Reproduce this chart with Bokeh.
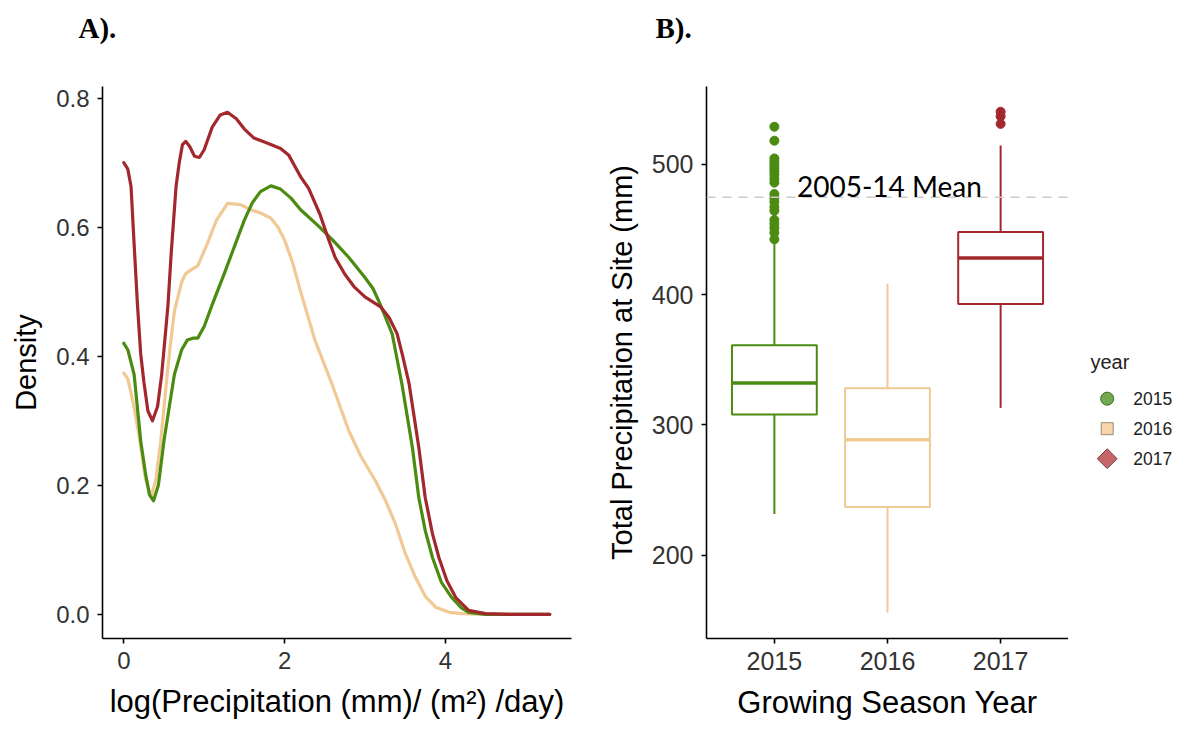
import math
from bokeh.plotting import figure
from bokeh.layouts import row, column
from bokeh.models import ColumnDataSource, Label, Span, FixedTicker, Range1d
from bokeh.core.properties import value
from bokeh.embed import file_html
from bokeh.resources import INLINE

# ---------------- data ----------------
years = ["2015", "2016", "2017"]
colors = ["#4b8b12", "#f0c994", "#a3282d"]
legend_title = "year"
legend_fill = ["#72a852", "#f6d6aa", "#c4666a"]
legend_line = ["#3c6a1a", "#9c8870", "#7a3a3a"]
legend_marker = ["circle", "square", "square"]
legend_angle = [0, 0, math.pi / 4]
legend_size = [13, 12, 14]
panel_tags = ["A).", "B)."]

# Panel A: density of log daily precipitation
x_2015 = [0.00, 0.05, 0.128, 0.21, 0.27, 0.32, 0.37, 0.43, 0.50, 0.564, 0.63, 0.72,
          0.79, 0.86, 0.92, 1.00, 1.10, 1.25, 1.40, 1.50, 1.60, 1.70, 1.83, 1.95,
          2.08, 2.20, 2.42, 2.60, 2.80, 3.00, 3.10, 3.17, 3.25, 3.34, 3.46, 3.59,
          3.67, 3.75, 3.84, 3.95, 4.08, 4.20, 4.29, 4.50, 5.30]
d_2015 = [0.420, 0.410, 0.372, 0.269, 0.218, 0.185, 0.176, 0.200, 0.269, 0.320, 0.372, 0.410,
          0.425, 0.428, 0.428, 0.446, 0.480, 0.528, 0.578, 0.611, 0.638, 0.655, 0.664, 0.659,
          0.645, 0.627, 0.602, 0.580, 0.553, 0.522, 0.505, 0.486, 0.462, 0.434, 0.357, 0.259,
          0.181, 0.130, 0.088, 0.050, 0.026, 0.010, 0.003, 0.000, 0.000]

x_2016 = [0.00, 0.05, 0.13, 0.20, 0.27, 0.34, 0.40, 0.46, 0.54, 0.585, 0.63, 0.67,
          0.72, 0.77, 0.85, 0.92, 1.04, 1.15, 1.29, 1.45, 1.58, 1.70, 1.83, 1.92,
          2.00, 2.10, 2.20, 2.38, 2.59, 2.80, 2.95, 3.13, 3.25, 3.38, 3.50, 3.63,
          3.75, 3.88, 4.05, 4.21, 4.50, 5.30]
d_2016 = [0.374, 0.365, 0.320, 0.269, 0.210, 0.181, 0.210, 0.269, 0.372, 0.424, 0.470, 0.490,
          0.515, 0.528, 0.535, 0.540, 0.575, 0.610, 0.637, 0.635, 0.627, 0.622, 0.614, 0.600,
          0.580, 0.545, 0.500, 0.424, 0.357, 0.284, 0.245, 0.207, 0.178, 0.140, 0.095, 0.057,
          0.028, 0.011, 0.003, 0.001, 0.000, 0.000]

x_2017 = [0.00, 0.05, 0.09, 0.13, 0.17, 0.21, 0.25, 0.30, 0.357, 0.42, 0.47, 0.51,
          0.55, 0.59, 0.65, 0.69, 0.73, 0.77, 0.82, 0.88, 0.94, 1.00, 1.10, 1.20,
          1.29, 1.40, 1.50, 1.62, 1.79, 1.95, 2.05, 2.20, 2.30, 2.44, 2.55, 2.63,
          2.75, 2.87, 3.00, 3.20, 3.30, 3.40, 3.47, 3.55, 3.67, 3.75, 3.84, 3.92,
          4.02, 4.13, 4.29, 4.50, 4.80, 5.30]
d_2017 = [0.700, 0.690, 0.663, 0.570, 0.480, 0.404, 0.360, 0.315, 0.300, 0.322, 0.370, 0.424,
          0.480, 0.560, 0.663, 0.700, 0.728, 0.733, 0.725, 0.710, 0.708, 0.720, 0.755, 0.774,
          0.778, 0.768, 0.752, 0.738, 0.730, 0.722, 0.712, 0.678, 0.660, 0.620, 0.580, 0.553,
          0.527, 0.507, 0.492, 0.476, 0.460, 0.435, 0.400, 0.357, 0.259, 0.181, 0.125, 0.088,
          0.052, 0.026, 0.006, 0.001, 0.000, 0.000]

dens_x = [x_2015, x_2016, x_2017]
dens_y = [d_2015, d_2016, d_2017]

# Panel B: box plot statistics of total precipitation (mm)
box_pos = [1, 2, 3]
q1 = [308, 237, 392.8]
median = [332.2, 288.6, 428]
q3 = [361, 328, 448.1]
whisk_lo = [231.5, 155.8, 313]
whisk_hi = [441, 408.4, 514.4]
out_2015 = [528.8, 518.1, 504.5, 502, 499.5, 497, 494.6, 492, 488.8, 485.9, 477.2,
            474.2, 471, 467.2, 464.3, 457.3, 454.3, 451.1, 447.4, 442.4]
out_2017 = [540.3, 536.8, 531]
mean_2005_14 = 474.7
mean_label = "2005-14 Mean"

FONT = "Liberation Sans"
TICK_COLOR = "#333333"


def bare(p):
    p.axis.visible = False
    p.grid.visible = False
    p.outline_line_color = None
    p.background_fill_color = "white"
    p.border_fill_color = "white"


# ---------------- header with panel tags (pixel-like ranges, y down) ----------------
hdr = figure(width=1178, height=50, x_range=Range1d(0, 1178), y_range=Range1d(50, 0),
             title=None, output_backend="svg", toolbar_location=None,
             min_border_left=0, min_border_right=0, min_border_top=0, min_border_bottom=0)
bare(hdr)
hdr.text(x=[78, 655], y=[27, 27], text=panel_tags, text_font=value("Liberation Serif"),
         text_font_style="bold", text_font_size=value("29px"), text_color="black",
         text_baseline="middle", text_align="left")

# ---------------- panel A ----------------
pa = figure(width=600, height=683, x_range=(-0.265, 5.57), y_range=(-0.0375, 0.818),
            output_backend="svg", toolbar_location=None,
            min_border_left=102, min_border_right=29, min_border_top=36, min_border_bottom=95)
for i in (1, 0, 2):
    pa.line(dens_x[i], dens_y[i], line_color=colors[i], line_width=3.2,
            line_join="round", line_cap="round")

pa.xaxis.ticker = FixedTicker(ticks=[0, 2, 4])
pa.yaxis.ticker = FixedTicker(ticks=[0, 0.2, 0.4, 0.6, 0.8])
pa.yaxis.major_label_overrides = {0: "0.0", 0.2: "0.2", 0.4: "0.4", 0.6: "0.6", 0.8: "0.8"}
pa.xaxis.axis_label = "log(Precipitation (mm)/ (m²) /day)"
pa.yaxis.axis_label = "Density"

# ---------------- panel B ----------------
pb = figure(width=468, height=683, x_range=(0.4, 3.6), y_range=(136, 559.7),
            output_backend="svg", toolbar_location=None,
            min_border_left=106, min_border_right=0, min_border_top=36, min_border_bottom=78)

pb.add_layout(Span(location=mean_2005_14, dimension="width", line_color="#cccccc",
                   line_width=1.6, line_dash="9 7"))

half = 0.375
src = ColumnDataSource(dict(
    x=box_pos, q1=q1, q3=q3, med=median, lo=whisk_lo, hi=whisk_hi, color=colors,
    left=[b - half for b in box_pos], right=[b + half for b in box_pos]))
pb.segment(x0="x", y0="q3", x1="x", y1="hi", line_color="color", line_width=2, source=src)
pb.segment(x0="x", y0="q1", x1="x", y1="lo", line_color="color", line_width=2, source=src)
pb.quad(left="left", right="right", bottom="q1", top="q3", fill_color="white",
        line_color="color", line_width=2, source=src)
pb.segment(x0="left", y0="med", x1="right", y1="med", line_color="color", line_width=3.5,
           source=src)

pb.scatter([box_pos[0]] * len(out_2015), out_2015, size=9, color=colors[0])
pb.scatter([box_pos[2]] * len(out_2017), out_2017, size=9, color=colors[2])

pb.add_layout(Label(x=1.2, y=483, text=mean_label, text_font="Lato",
                    text_font_size="28px", text_color="black", text_baseline="alphabetic"))

pb.xaxis.ticker = FixedTicker(ticks=box_pos)
pb.xaxis.major_label_overrides = {b: y for b, y in zip(box_pos, years)}
pb.yaxis.ticker = FixedTicker(ticks=[200, 300, 400, 500])
pb.xaxis.axis_label = "Growing Season Year"
pb.yaxis.axis_label = "Total Precipitation at Site (mm)"

# ---------------- legend column (frame is aligned with panel A's frame: y 86..637.7) ----
lg = figure(width=110, height=683, x_range=Range1d(1068, 1178), y_range=Range1d(637.7, 86),
            title=None, output_backend="svg", toolbar_location=None,
            min_border_left=0, min_border_right=0, min_border_top=0, min_border_bottom=0)
bare(lg)
key_x = 1106.7
key_y = [398, 428, 458]
lg.text(x=[1090], y=[361], text=[legend_title], text_font=value(FONT),
        text_font_size=value("20px"), text_color="#222222", text_baseline="middle")
lsrc = ColumnDataSource(dict(x=[key_x] * 3, y=key_y, marker=legend_marker, size=legend_size,
                             angle=legend_angle, fill=legend_fill, line=legend_line,
                             tx=[key_x + 26] * 3, label=years))
lg.scatter(x="x", y="y", marker="marker", size="size", angle="angle", fill_color="fill",
           line_color="line", line_width=1, source=lsrc)
lg.text(x="tx", y="y", text="label", text_font=value(FONT), text_font_size=value("17.5px"),
        text_color="#222222", text_baseline="middle", source=lsrc)

# ---------------- common styling ----------------
for p, tick_size in ((pa, "24px"), (pb, "25px")):
    p.outline_line_color = None
    p.grid.visible = False
    p.background_fill_color = "white"
    for ax in (p.xaxis[0], p.yaxis[0]):
        ax.axis_line_color = "black"
        ax.axis_line_width = 1.6
        ax.major_tick_line_color = "black"
        ax.major_tick_line_width = 1.6
        ax.major_tick_out = 5
        ax.major_tick_in = 0
        ax.minor_tick_line_color = None
        ax.major_label_text_font = FONT
        ax.major_label_text_font_size = tick_size
        ax.major_label_text_color = TICK_COLOR
        ax.axis_label_text_font = FONT
        ax.axis_label_text_font_style = "normal"
        ax.axis_label_text_color = "black"
    p.xaxis.axis_label_text_font_size = "31px"
    p.yaxis.axis_label_text_font_size = "29px"
    p.yaxis.major_label_standoff = 8
    p.xaxis.major_label_standoff = 8
    p.yaxis.axis_label_standoff = 11
    p.xaxis.axis_label_standoff = 12

layout = column(hdr, row(pa, pb, lg))
open("out.html", "w").write(file_html(layout, INLINE))
